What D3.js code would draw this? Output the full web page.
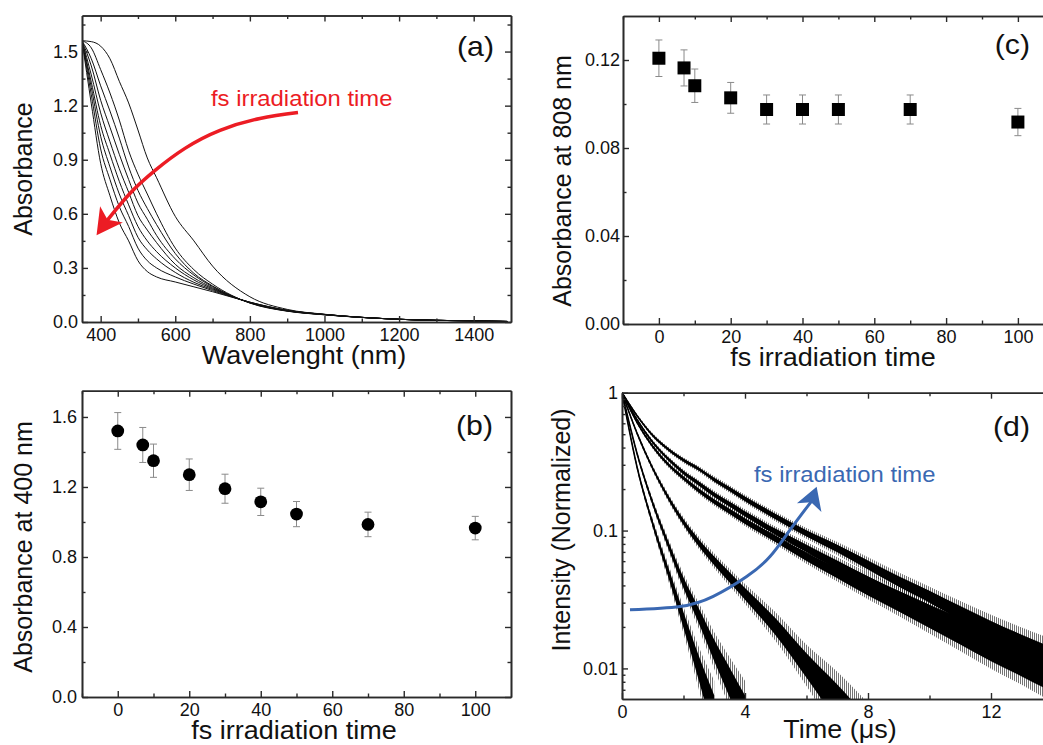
<!DOCTYPE html>
<html><head><meta charset="utf-8">
<script src="https://cdn.jsdelivr.net/npm/d3@7"></script>
<style>
body{margin:0;background:#fff}
svg{display:block}
text{font-family:"Liberation Sans",Arial,Helvetica,sans-serif;fill:#111}
</style>
</head><body>
<svg id="chart" width="1043" height="745"></svg>
<script>
// ---------------- Panel (a) data: absorption spectra ----------------
const wavelengthNm=[350,375,400,425,450,475,500,525,550,600,650,700,800,900,1000,1200,1400,1490];
const spectrum0=[1.56,1.555,1.53,1.46,1.335,1.215,1.065,0.91,0.80,0.586,0.45,0.31,0.14,0.07,0.043,0.015,0.006,0.003];
const spectrum1=[1.56,1.52,1.40,1.27,1.12,0.95,0.82,0.71,0.60,0.41,0.29,0.21,0.105,0.06,0.04,0.015,0.006,0.003];
const spectrum2=[1.56,1.46,1.31,1.17,1.02,0.86,0.73,0.63,0.54,0.38,0.27,0.20,0.106,0.061,0.04,0.015,0.006,0.003];
const spectrum3=[1.56,1.42,1.23,1.08,0.93,0.79,0.66,0.57,0.48,0.35,0.26,0.196,0.107,0.062,0.041,0.015,0.006,0.003];
const spectrum4=[1.56,1.37,1.16,1.00,0.85,0.72,0.59,0.51,0.44,0.32,0.245,0.19,0.107,0.062,0.041,0.015,0.006,0.003];
const spectrum5=[1.56,1.33,1.09,0.93,0.78,0.65,0.53,0.45,0.39,0.30,0.233,0.185,0.108,0.063,0.041,0.015,0.006,0.003];
const spectrum6=[1.56,1.30,1.03,0.86,0.71,0.59,0.47,0.40,0.35,0.275,0.22,0.18,0.109,0.064,0.042,0.015,0.006,0.003];
const spectrum7=[1.56,1.26,0.96,0.79,0.64,0.53,0.41,0.34,0.30,0.25,0.21,0.174,0.11,0.065,0.042,0.015,0.006,0.003];
const spectrum8=[1.56,1.21,0.88,0.70,0.55,0.45,0.34,0.28,0.25,0.222,0.195,0.168,0.11,0.065,0.042,0.015,0.006,0.003];
const spectra=[spectrum0,spectrum1,spectrum2,spectrum3,spectrum4,spectrum5,spectrum6,spectrum7,spectrum8];
const redArrowNm=[929,827,720,626,546,479,417];
const redArrowAbs=[1.162,1.129,1.063,0.963,0.841,0.714,0.562];
const redArrowTip=[389,0.481];

// ---------------- Panels (b),(c) data ----------------
const irradiationTime=[0,7,10,20,30,40,50,70,100];
const abs400=[1.52,1.44,1.35,1.27,1.19,1.115,1.045,0.986,0.965];
const abs400Err=[0.105,0.10,0.095,0.09,0.083,0.078,0.072,0.07,0.067];
const abs808=[0.1208,0.1164,0.1083,0.1028,0.0975,0.0975,0.0975,0.0975,0.0918];
const abs808Err=[0.0083,0.0082,0.0076,0.007,0.0066,0.0066,0.0066,0.0066,0.0062];

// ---------------- Panel (d) data: normalized decays ----------------
const decayTime=[0,0.5,1,1.5,2,2.5,3,3.5,4,5,6,7,8,9,10,11,12,13,14];
const decay1=[1,0.282,0.112,0.0501,0.0224,0.0100,0.0045];
const decay2=[1,0.355,0.158,0.0794,0.0417,0.0240,0.0135,0.0079,0.0045];
const decay3=[1,0.501,0.282,0.174,0.115,0.0813,0.0603,0.0457,0.0347,0.0200,0.0105,0.0056,0.0030];
const decay4=[1,0.603,0.407,0.302,0.240,0.195,0.162,0.138,0.117,0.0871,0.0646,0.0490,0.0372,0.0288,0.0224,0.0174,0.0135,0.0107,0.0085];
const decay5=[1,0.631,0.437,0.331,0.263,0.219,0.182,0.155,0.132,0.0977,0.0741,0.0562,0.0427,0.0331,0.0257,0.0200,0.0155,0.0123,0.0100];
const decay6=[1,0.676,0.490,0.389,0.324,0.279,0.234,0.200,0.170,0.126,0.0955,0.0741,0.0562,0.0427,0.0331,0.0251,0.0191,0.0148,0.0117];
const decays=[decay1,decay2,decay3,decay4,decay5,decay6];
// noise band half-width (decades) vs intensity level
const noiseLevel=[1,0.3,0.1,0.03,0.01,0.004];
const noiseHalfDecades=[0.005,0.012,0.022,0.045,0.09,0.16];
const blueArrowT=[0.26,1.886,2.969,4.055,4.813,5.463,6.16];
const blueArrowI=[0.0266,0.0281,0.0333,0.0464,0.0648,0.101,0.163];
const blueArrowTip=[6.33,0.208];

// tick values
const aXMajor=[400,600,800,1000,1200,1400], aXMinor=[500,700,900,1100,1300];
const aYMajor=[0,0.3,0.6,0.9,1.2,1.5], aYMinor=[0.15,0.45,0.75,1.05,1.35,1.65];
const tXMajor=[0,20,40,60,80,100], tXMinor=[-10,10,30,50,70,90];
const bYMajor=[0,0.4,0.8,1.2,1.6], bYMinor=[0.2,0.6,1.0,1.4];
const cYMajor=[0,0.04,0.08,0.12], cYMinor=[0.02,0.06,0.10];
const dXMajor=[0,4,8,12], dXMinor=[2,6,10];
const dYMajor=[1,0.1,0.01];
const dYMinor=[0.007,0.008,0.009,0.02,0.03,0.04,0.05,0.06,0.07,0.08,0.09,0.2,0.3,0.4,0.5,0.6,0.7,0.8,0.9];

const RED="#EC1C24", BLUE="#3A68B2", AXIS="#2a2a2a";
const svg=d3.select("#chart");
const pat=svg.append("defs").append("pattern").attr("id","vstripe")
  .attr("patternUnits","userSpaceOnUse").attr("width",2).attr("height",6);
pat.append("rect").attr("width",1).attr("height",6).attr("fill","#000");

function hText(g,x,y,str,size,anchor,color,sx){
  return g.append("text").attr("transform",`translate(${x},${y}) scale(${sx||1.08},1)`)
    .attr("text-anchor",anchor).attr("font-size",size).style("fill",color||"#111").text(str);
}
function vText(g,x,y,str,size){
  return g.append("text").attr("transform",`translate(${x},${y}) rotate(-90)`)
    .attr("text-anchor","middle").attr("font-size",size).text(str);
}
function frame(x,y,o){
  const [x0,x1]=x.range(), [y0,y1]=y.range();
  const g=svg.append("g");
  const st=s=>{s.select(".domain").attr("stroke",AXIS).attr("stroke-width",1.6);
    s.selectAll(".tick line").attr("stroke",AXIS).attr("stroke-width",1.4);
    s.selectAll("text").attr("font-size",18).style("fill","#111");};
  g.append("g").attr("transform",`translate(0,${y0})`)
    .call(d3.axisBottom(x).tickValues(o.xMajor).tickSize(-6).tickSizeOuter(0).tickPadding(6).tickFormat(o.xFmt)).call(st);
  g.append("g").attr("transform",`translate(0,${y0})`)
    .call(d3.axisBottom(x).tickValues(o.xMinor).tickSize(-3.5).tickSizeOuter(0).tickFormat("")).call(st);
  g.append("g").attr("transform",`translate(0,${y1})`)
    .call(d3.axisTop(x).tickValues(o.xMajor).tickSize(-6).tickSizeOuter(0).tickFormat("")).call(st);
  g.append("g").attr("transform",`translate(0,${y1})`)
    .call(d3.axisTop(x).tickValues(o.xMinor).tickSize(-3.5).tickSizeOuter(0).tickFormat("")).call(st);
  g.append("g").attr("transform",`translate(${x0},0)`)
    .call(d3.axisLeft(y).tickValues(o.yMajor).tickSize(-6).tickSizeOuter(0).tickPadding(o.yPad||4).tickFormat(o.yFmt)).call(st);
  g.append("g").attr("transform",`translate(${x0},0)`)
    .call(d3.axisLeft(y).tickValues(o.yMinor).tickSize(-3.5).tickSizeOuter(0).tickFormat("")).call(st);
  g.append("g").attr("transform",`translate(${x1},0)`)
    .call(d3.axisRight(y).tickValues(o.yMajor).tickSize(-6).tickSizeOuter(0).tickFormat("")).call(st);
  g.append("g").attr("transform",`translate(${x1},0)`)
    .call(d3.axisRight(y).tickValues(o.yMinor).tickSize(-3.5).tickSizeOuter(0).tickFormat("")).call(st);
  return g;
}
function clip(id,x,y){
  const [x0,x1]=x.range(), [y0,y1]=y.range();
  svg.append("clipPath").attr("id",id).append("rect")
    .attr("x",x0).attr("y",y1).attr("width",x1-x0).attr("height",y0-y1);
  return svg.append("g").attr("clip-path",`url(#${id})`);
}
function arrow(g,pts,tip,color,w,halfW){
  const last=pts[pts.length-1];
  g.append("path").attr("d",d3.line().curve(d3.curveNatural)(pts))
    .attr("fill","none").attr("stroke",color).attr("stroke-width",w);
  const dx=tip[0]-last[0], dy=tip[1]-last[1], L=Math.hypot(dx,dy);
  const ux=dx/L, uy=dy/L, nx=-uy, ny=ux, len=L/0.7;
  const bx=tip[0]-ux*len, by=tip[1]-uy*len;
  const head=[tip,[bx+nx*halfW,by+ny*halfW],[last[0]-ux*1,last[1]-uy*1],[bx-nx*halfW,by-ny*halfW]];
  g.append("path").attr("d","M"+head.map(p=>p.join(",")).join("L")+"Z").attr("fill",color);
}

// ================= Panel (a) =================
{
  const x=d3.scaleLinear().domain([350,1500]).range([82,511]);
  const y=d3.scaleLinear().domain([0,1.7]).range([322,15.5]);
  const pg=clip("clipA",x,y);
  const line=d3.line().x((d,i)=>x(wavelengthNm[i])).y(d=>y(d)).curve(d3.curveMonotoneX);
  spectra.forEach(s=>pg.append("path").attr("d",line(s)).attr("fill","none").attr("stroke","#111").attr("stroke-width",1));
  frame(x,y,{xMajor:aXMajor,xMinor:aXMinor,yMajor:aYMajor,yMinor:aYMinor,xFmt:d3.format("d"),yFmt:d3.format(".1f"),yPad:4});
  arrow(svg.append("g"),redArrowNm.map((v,i)=>[x(v),y(redArrowAbs[i])]),[x(redArrowTip[0]),y(redArrowTip[1])],RED,3.5,14);
  hText(svg,211,106,"fs irradiation time",22.5,"start",RED,1.06);
  hText(svg,494,56,"(a)",28,"end");
  hText(svg,304,364,"Wavelenght (nm)",25,"middle");
  vText(svg,31.5,169,"Absorbance",25);
}
// ================= Panel (b) =================
{
  const x=d3.scaleLinear().domain([-10,110]).range([82,511]);
  const y=d3.scaleLinear().domain([0,1.75]).range([697,390.7]);
  const g=svg.append("g");
  irradiationTime.forEach((t,i)=>{
    const xe=x(t), yt=y(abs400[i]+abs400Err[i]), yb=y(abs400[i]-abs400Err[i]);
    g.append("path").attr("d",`M${xe},${yt}V${yb}M${xe-3.5},${yt}H${xe+3.5}M${xe-3.5},${yb}H${xe+3.5}`)
      .attr("stroke","#8a8a8a").attr("stroke-width",1).attr("fill","none");
  });
  g.selectAll("circle").data(irradiationTime).join("circle")
    .attr("cx",d=>x(d)).attr("cy",(d,i)=>y(abs400[i])).attr("r",6.4).attr("fill","#000");
  frame(x,y,{xMajor:tXMajor,xMinor:tXMinor,yMajor:bYMajor,yMinor:bYMinor,xFmt:d3.format("d"),yFmt:d3.format(".1f"),yPad:5});
  hText(svg,493,435,"(b)",28,"end");
  hText(svg,294,739,"fs irradiation time",25,"middle");
  vText(svg,32,547,"Absorbance at 400 nm",25);
}
// ================= Panel (c) =================
{
  const x=d3.scaleLinear().domain([-10,110]).range([623,1053.8]);
  const y=d3.scaleLinear().domain([0,0.14]).range([324,16]);
  const g=svg.append("g");
  irradiationTime.forEach((t,i)=>{
    const xe=x(t), yt=y(abs808[i]+abs808Err[i]), yb=y(abs808[i]-abs808Err[i]);
    g.append("path").attr("d",`M${xe},${yt}V${yb}M${xe-3.5},${yt}H${xe+3.5}M${xe-3.5},${yb}H${xe+3.5}`)
      .attr("stroke","#8a8a8a").attr("stroke-width",1).attr("fill","none");
  });
  const s=13;
  g.selectAll("rect").data(irradiationTime).join("rect")
    .attr("x",d=>x(d)-s/2).attr("y",(d,i)=>y(abs808[i])-s/2).attr("width",s).attr("height",s).attr("fill","#000");
  frame(x,y,{xMajor:tXMajor,xMinor:tXMinor,yMajor:cYMajor,yMinor:cYMinor,xFmt:d3.format("d"),yFmt:d3.format(".2f"),yPad:3});
  hText(svg,1030,54,"(c)",28,"end");
  hText(svg,833,366,"fs irradiation time",25,"middle");
  vText(svg,571,181,"Absorbance at 808 nm",25);
}
// ================= Panel (d) =================
{
  const x=d3.scaleLinear().domain([0,14]).range([622,1052.5]);
  const y=d3.scaleLog().domain([0.006,1]).range([699,392.7]);
  const hw=d3.scaleLog().domain(noiseLevel).range(noiseHalfDecades).clamp(true);
  const pg=clip("clipD",x,y);
  decays.forEach(dc=>{
    const pts=dc.map((v,i)=>({t:decayTime[i],v}));
    const band=k=>d3.area().x(d=>x(d.t))
      .y0(d=>y(d.v*Math.pow(10,-k*hw(d.v)))).y1(d=>y(d.v*Math.pow(10,k*hw(d.v)))).curve(d3.curveMonotoneX);
    pg.append("path").attr("d",band(1.7)(pts)).attr("fill","url(#vstripe)").attr("opacity",0.55);
    pg.append("path").attr("d",band(1)(pts)).attr("fill","#000");
    pg.append("path").attr("d",d3.line().x(d=>x(d.t)).y(d=>y(d.v)).curve(d3.curveMonotoneX)(pts))
      .attr("fill","none").attr("stroke","#000").attr("stroke-width",1.6);
  });
  frame(x,y,{xMajor:dXMajor,xMinor:dXMinor,yMajor:dYMajor,yMinor:dYMinor,xFmt:d3.format("d"),yFmt:d=>String(d),yPad:4});
  arrow(svg.append("g"),blueArrowT.map((v,i)=>[x(v),y(blueArrowI[i])]),[x(blueArrowTip[0]),y(blueArrowTip[1])],BLUE,3,13);
  hText(svg,754,482,"fs irradiation time",22.5,"start",BLUE,1.06);
  hText(svg,1030,436,"(d)",28,"end");
  hText(svg,840,738,"Time (μs)",25,"middle");
  vText(svg,570,530,"Intensity (Normalized)",25);
}
</script>
</body></html>
